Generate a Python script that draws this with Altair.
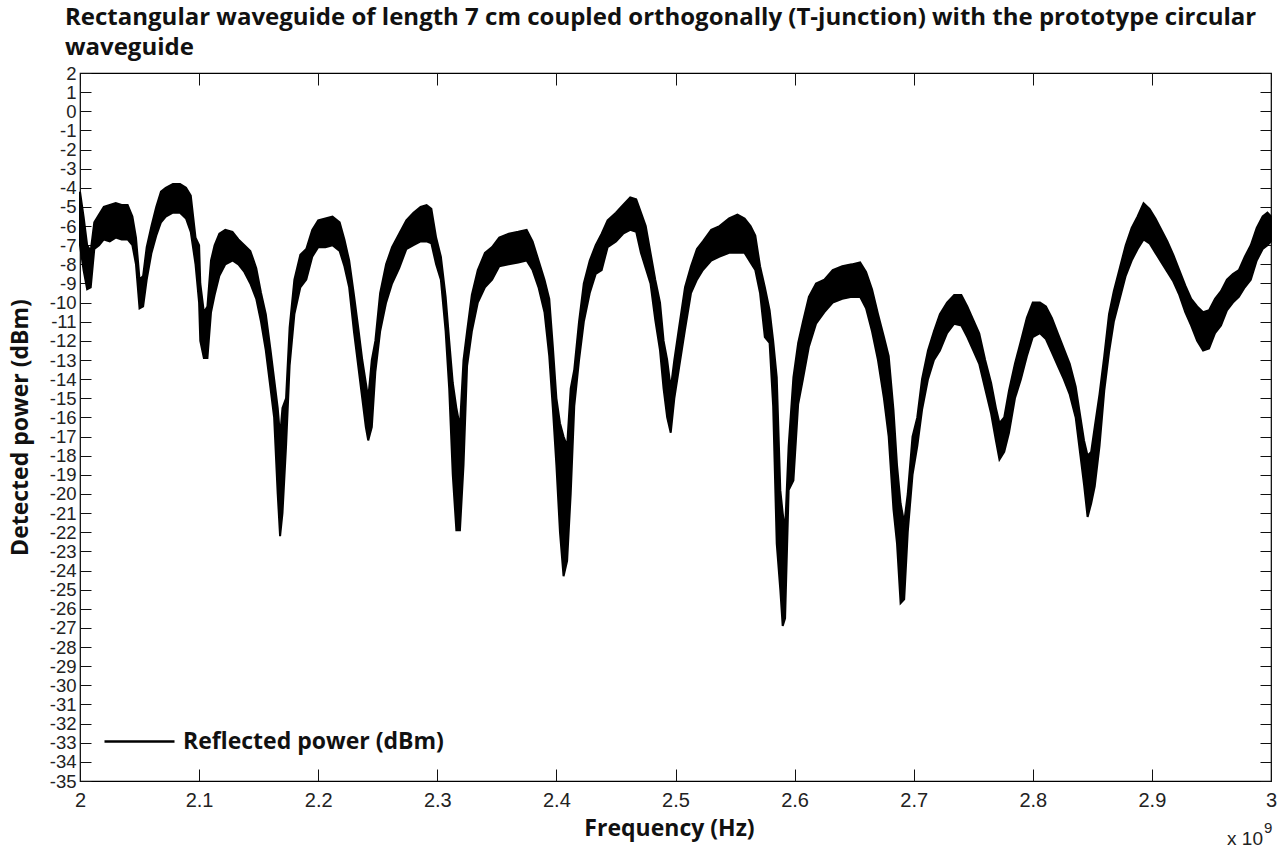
import altair as alt
import pandas as pd

# ---- data (frequency in GHz, power envelope in dBm) ----
freq_ghz = [
    2.000, 2.003, 2.006, 2.009, 2.012, 2.016, 2.020, 2.025, 2.030, 2.035,
    2.040, 2.044, 2.047, 2.050, 2.053, 2.056, 2.060, 2.064, 2.068, 2.072,
    2.078, 2.084, 2.089, 2.093, 2.097, 2.100, 2.101, 2.104, 2.107, 2.110,
    2.113, 2.117, 2.122, 2.128, 2.133, 2.138, 2.143, 2.148, 2.152, 2.156,
    2.160, 2.163, 2.166, 2.168, 2.170, 2.173, 2.176, 2.180, 2.185, 2.190,
    2.195, 2.200, 2.206, 2.212, 2.218, 2.222, 2.226, 2.230, 2.234, 2.237,
    2.240, 2.242, 2.245, 2.248, 2.252, 2.257, 2.262, 2.268, 2.274, 2.280,
    2.286, 2.291, 2.295, 2.299, 2.303, 2.307, 2.310, 2.313, 2.316, 2.319,
    2.322, 2.325, 2.329, 2.334, 2.340, 2.346, 2.352, 2.360, 2.368, 2.375,
    2.380, 2.385, 2.390, 2.394, 2.397, 2.400, 2.403, 2.406, 2.409, 2.412,
    2.415, 2.419, 2.423, 2.428, 2.433, 2.438, 2.443, 2.450, 2.456, 2.462,
    2.467, 2.471, 2.475, 2.479, 2.483, 2.487, 2.490, 2.493, 2.496, 2.499,
    2.503, 2.508, 2.513, 2.518, 2.523, 2.530, 2.537, 2.545, 2.552, 2.558,
    2.563, 2.567, 2.571, 2.575, 2.579, 2.582, 2.585, 2.588, 2.590, 2.592,
    2.595, 2.599, 2.603, 2.607, 2.612, 2.618, 2.625, 2.632, 2.640, 2.648,
    2.655, 2.660, 2.665, 2.670, 2.675, 2.679, 2.683, 2.686, 2.689, 2.692,
    2.695, 2.699, 2.703, 2.707, 2.712, 2.717, 2.722, 2.728, 2.734, 2.740,
    2.745, 2.750, 2.755, 2.760, 2.765, 2.769, 2.772, 2.776, 2.780, 2.785,
    2.790, 2.795, 2.800, 2.806, 2.811, 2.816, 2.821, 2.826, 2.831, 2.836,
    2.840, 2.843, 2.846, 2.849, 2.852, 2.856, 2.860, 2.864, 2.868, 2.873,
    2.878, 2.883, 2.888, 2.893, 2.898, 2.903, 2.908, 2.913, 2.918, 2.923,
    2.928, 2.933, 2.938, 2.943, 2.948, 2.953, 2.958, 2.963, 2.968, 2.973,
    2.978, 2.983, 2.988, 2.993, 2.997, 3.000,
]

lower_dbm = [
    -7.0, -8.3, -9.3, -9.2, -7.2, -7.0, -6.7, -6.8, -6.6, -6.7,
    -6.7, -7.0, -8.0, -10.3, -10.2, -8.8, -7.4, -6.5, -5.8, -5.5,
    -5.3, -5.3, -5.6, -6.3, -8.0, -10.0, -12.0, -12.9, -12.9, -10.5,
    -9.6, -8.6, -8.0, -7.8, -8.0, -8.4, -9.0, -9.8, -11.0, -12.5,
    -14.5, -16.0, -20.0, -22.2, -21.0, -17.5, -13.3, -10.6, -9.2, -8.8,
    -7.6, -7.1, -7.1, -7.0, -7.3, -8.1, -9.2, -11.5, -13.5, -15.0,
    -16.5, -17.2, -16.5, -13.6, -11.5, -10.0, -9.0, -8.2, -7.2, -7.0,
    -6.8, -6.8, -6.9, -8.0, -8.8, -11.5, -14.5, -19.0, -21.9, -21.9,
    -18.5, -13.3, -11.5, -10.0, -9.2, -8.8, -8.1, -8.0, -7.9, -7.8,
    -8.3, -9.2, -10.5, -12.8, -15.5, -18.5, -22.0, -24.3, -23.5, -20.0,
    -15.4, -13.0, -11.0, -9.5, -8.5, -8.3, -7.1, -6.8, -6.4, -6.2,
    -6.3, -7.4, -8.2, -9.0, -10.9, -12.5, -14.5, -16.0, -16.8, -15.0,
    -13.4, -11.4, -9.5, -8.8, -8.3, -7.8, -7.6, -7.4, -7.4, -7.4,
    -7.9, -8.3, -9.5, -11.8, -12.1, -15.4, -22.6, -25.0, -26.9, -26.5,
    -19.8, -19.3, -15.3, -14.0, -12.3, -11.1, -10.5, -10.0, -9.8, -9.7,
    -9.7, -10.3, -11.5, -13.0, -15.0, -17.0, -20.8, -22.6, -25.7, -25.5,
    -22.0, -19.0, -17.5, -15.6, -14.0, -13.0, -12.5, -11.6, -11.1, -11.2,
    -11.8, -12.5, -13.2, -14.5, -15.8, -17.2, -18.2, -17.8, -16.8, -15.0,
    -14.0, -12.8, -11.8, -11.6, -11.9, -12.6, -13.3, -14.0, -14.8, -16.0,
    -18.0, -19.5, -21.2, -20.5, -19.6, -17.5, -14.6, -12.6, -11.0, -9.8,
    -8.6, -7.8, -7.2, -6.7, -6.9, -7.4, -7.9, -8.4, -8.9, -9.6,
    -10.5, -11.2, -12.0, -12.5, -12.4, -11.6, -11.2, -10.4, -10.0, -9.7,
    -9.2, -8.8, -7.8, -7.2, -7.0, -6.8,
]

upper_dbm = [
    -4.2, -5.5, -7.0, -7.3, -5.8, -5.4, -5.0, -4.9, -4.8, -4.9,
    -4.9, -5.5, -6.6, -8.8, -8.6, -7.1, -6.0, -5.0, -4.2, -4.0,
    -3.8, -3.8, -4.0, -4.4, -6.6, -7.0, -9.0, -10.5, -10.2, -7.8,
    -7.0, -6.4, -6.2, -6.3, -6.7, -7.0, -7.3, -8.2, -9.5, -10.6,
    -12.5, -14.0, -15.5, -17.0, -15.5, -15.0, -11.3, -8.8, -7.5, -7.2,
    -6.2, -5.7, -5.6, -5.5, -5.8, -6.7, -7.8, -9.6, -11.5, -13.0,
    -14.2, -15.0, -13.0, -12.0, -9.5, -8.0, -7.1, -6.4, -5.7, -5.3,
    -5.0, -4.9, -5.1, -6.6, -7.6, -9.7, -12.0, -14.2, -15.5, -16.5,
    -13.0, -11.5, -9.6, -8.3, -7.4, -7.1, -6.6, -6.4, -6.3, -6.2,
    -6.8, -7.8, -8.8, -9.8, -12.3, -15.0, -16.3, -17.0, -17.5, -14.5,
    -13.5, -11.0, -9.0, -7.8, -7.0, -6.4, -5.7, -5.3, -4.9, -4.5,
    -4.6, -5.3, -6.0, -7.4, -8.8, -10.0, -12.0, -13.0, -14.5, -13.0,
    -11.3, -9.2, -8.1, -7.2, -6.8, -6.2, -6.0, -5.6, -5.4, -5.6,
    -6.0, -6.5, -8.1, -9.2, -10.4, -12.0, -13.9, -19.8, -21.0, -21.9,
    -17.5, -13.9, -12.1, -11.0, -9.7, -9.0, -8.8, -8.3, -8.1, -8.0,
    -7.9, -8.4, -9.3, -10.6, -11.8, -12.8, -15.6, -18.5, -20.5, -21.5,
    -20.0, -17.0, -16.0, -14.0, -12.5, -11.5, -10.6, -10.0, -9.6, -9.6,
    -10.2, -10.9, -11.6, -13.0, -14.2, -15.5, -16.3, -16.0, -14.6, -13.2,
    -12.0, -10.8, -10.0, -10.0, -10.2, -10.8, -11.6, -12.4, -13.2, -14.4,
    -16.0, -17.2, -18.0, -17.8, -16.5, -14.8, -12.8, -10.6, -9.4, -8.2,
    -7.0, -6.1, -5.5, -4.8, -5.1, -5.6, -6.2, -6.8, -7.5, -8.3,
    -9.1, -9.8, -10.2, -10.5, -10.4, -9.8, -9.4, -8.8, -8.5, -8.3,
    -7.6, -7.0, -6.1, -5.5, -5.3, -5.5,
]

series_name = "Reflected power (dBm)"
y_ticks = list(range(-35, 3))
x_ticks = [2.0, 2.1, 2.2, 2.3, 2.4, 2.5, 2.6, 2.7, 2.8, 2.9, 3.0]
title_lines = [
    "Rectangular waveguide of length 7 cm coupled orthogonally (T-junction) with the prototype circular",
    "waveguide",
]
exp_base = ["x 10"]
exp_power = ["9"]

df = pd.DataFrame({"freq": freq_ghz, "lower": lower_dbm, "upper": upper_dbm})
df["mid"] = [(a + b) / 2 for a, b in zip(lower_dbm, upper_dbm)]
df["series"] = series_name

W, H = 1191, 708
BOLD_FONT = "Open Sans"
TICK_FONT = "Liberation Sans"

x_scale = alt.Scale(domain=[2, 3], nice=False, zero=False)
y_scale = alt.Scale(domain=[-35, 2], nice=False, zero=False)

x_axis = alt.Axis(
    values=x_ticks, labelExpr="'' + datum.value", title="Frequency (Hz)",
    ticks=False, tickSize=0, domain=False, labelFlush=False, labelOverlap=False,
    labelPadding=9, labelFont=TICK_FONT, labelFontSize=20, labelColor="#222",
    grid=True, gridColor="#111", gridWidth=1, gridDash=[12, H - 24],
    titleFont=BOLD_FONT, titleFontWeight="bold", titleFontSize=23, titleColor="#111",
    titleX=589, titleY=47, titleBaseline="middle", titleAlign="center",
)
y_axis = alt.Axis(
    values=y_ticks, labelExpr="'' + datum.value", title="Detected power (dBm)",
    ticks=False, tickSize=0, domain=False, labelOverlap=False, labelFlush=False,
    labelPadding=4, labelFont=TICK_FONT, labelFontSize=18.5, labelColor="#222",
    grid=True, gridColor="#111", gridWidth=1, gridDash=[11, W - 22],
    titleFont=BOLD_FONT, titleFontWeight="bold", titleFontSize=23, titleColor="#111",
    titleX=-60, titleY=H / 2, titleAngle=270, titleAlign="center", titleBaseline="middle",
)

base = alt.Chart(df)

band = base.mark_area(color="black", stroke="black", strokeWidth=2, interpolate="linear").encode(
    x=alt.X("freq:Q", scale=x_scale, axis=x_axis),
    y=alt.Y("lower:Q", scale=y_scale, axis=y_axis),
    y2="upper:Q",
)

line = base.mark_line(strokeWidth=1.5, interpolate="linear").encode(
    x=alt.X("freq:Q", scale=x_scale, axis=x_axis),
    y=alt.Y("mid:Q", scale=y_scale, axis=y_axis),
    color=alt.Color(
        "series:N",
        scale=alt.Scale(range=["black"]),
        legend=alt.Legend(
            title=None, orient="none", legendX=23, legendY=632,
            symbolType="stroke", symbolSize=4900, symbolStrokeWidth=2.5,
            symbolStrokeColor="black", labelLimit=0,
            labelFont=BOLD_FONT, labelFontWeight="bold", labelFontSize=23,
            labelColor="#111", labelOffset=7, padding=0,
        ),
    ),
)

exp1 = alt.Chart(pd.DataFrame({"t": exp_base})).mark_text(
    font=TICK_FONT, fontSize=19, color="#222", align="right", baseline="alphabetic"
).encode(text="t:N", x=alt.value(W - 8), y=alt.value(H + 64))

exp2 = alt.Chart(pd.DataFrame({"t": exp_power})).mark_text(
    font=TICK_FONT, fontSize=15, color="#222", align="left", baseline="alphabetic"
).encode(text="t:N", x=alt.value(W - 7), y=alt.value(H + 52))

chart = alt.layer(band, line, exp1, exp2).properties(
    width=W, height=H,
    title=alt.Title(
        text=title_lines, anchor="start", frame="group", dx=-15, dy=30, offset=10,
        font=BOLD_FONT, fontWeight="bold", fontSize=24, lineHeight=30,
        color="#111", baseline="bottom",
    ),
    autosize=alt.AutoSizeParams(type="none"),
    padding={"left": 80, "top": 73, "right": 14, "bottom": 69},
).configure_view(stroke="black", strokeWidth=1.2)

chart.save("out.html", embed_options={"renderer": "svg", "actions": False})
